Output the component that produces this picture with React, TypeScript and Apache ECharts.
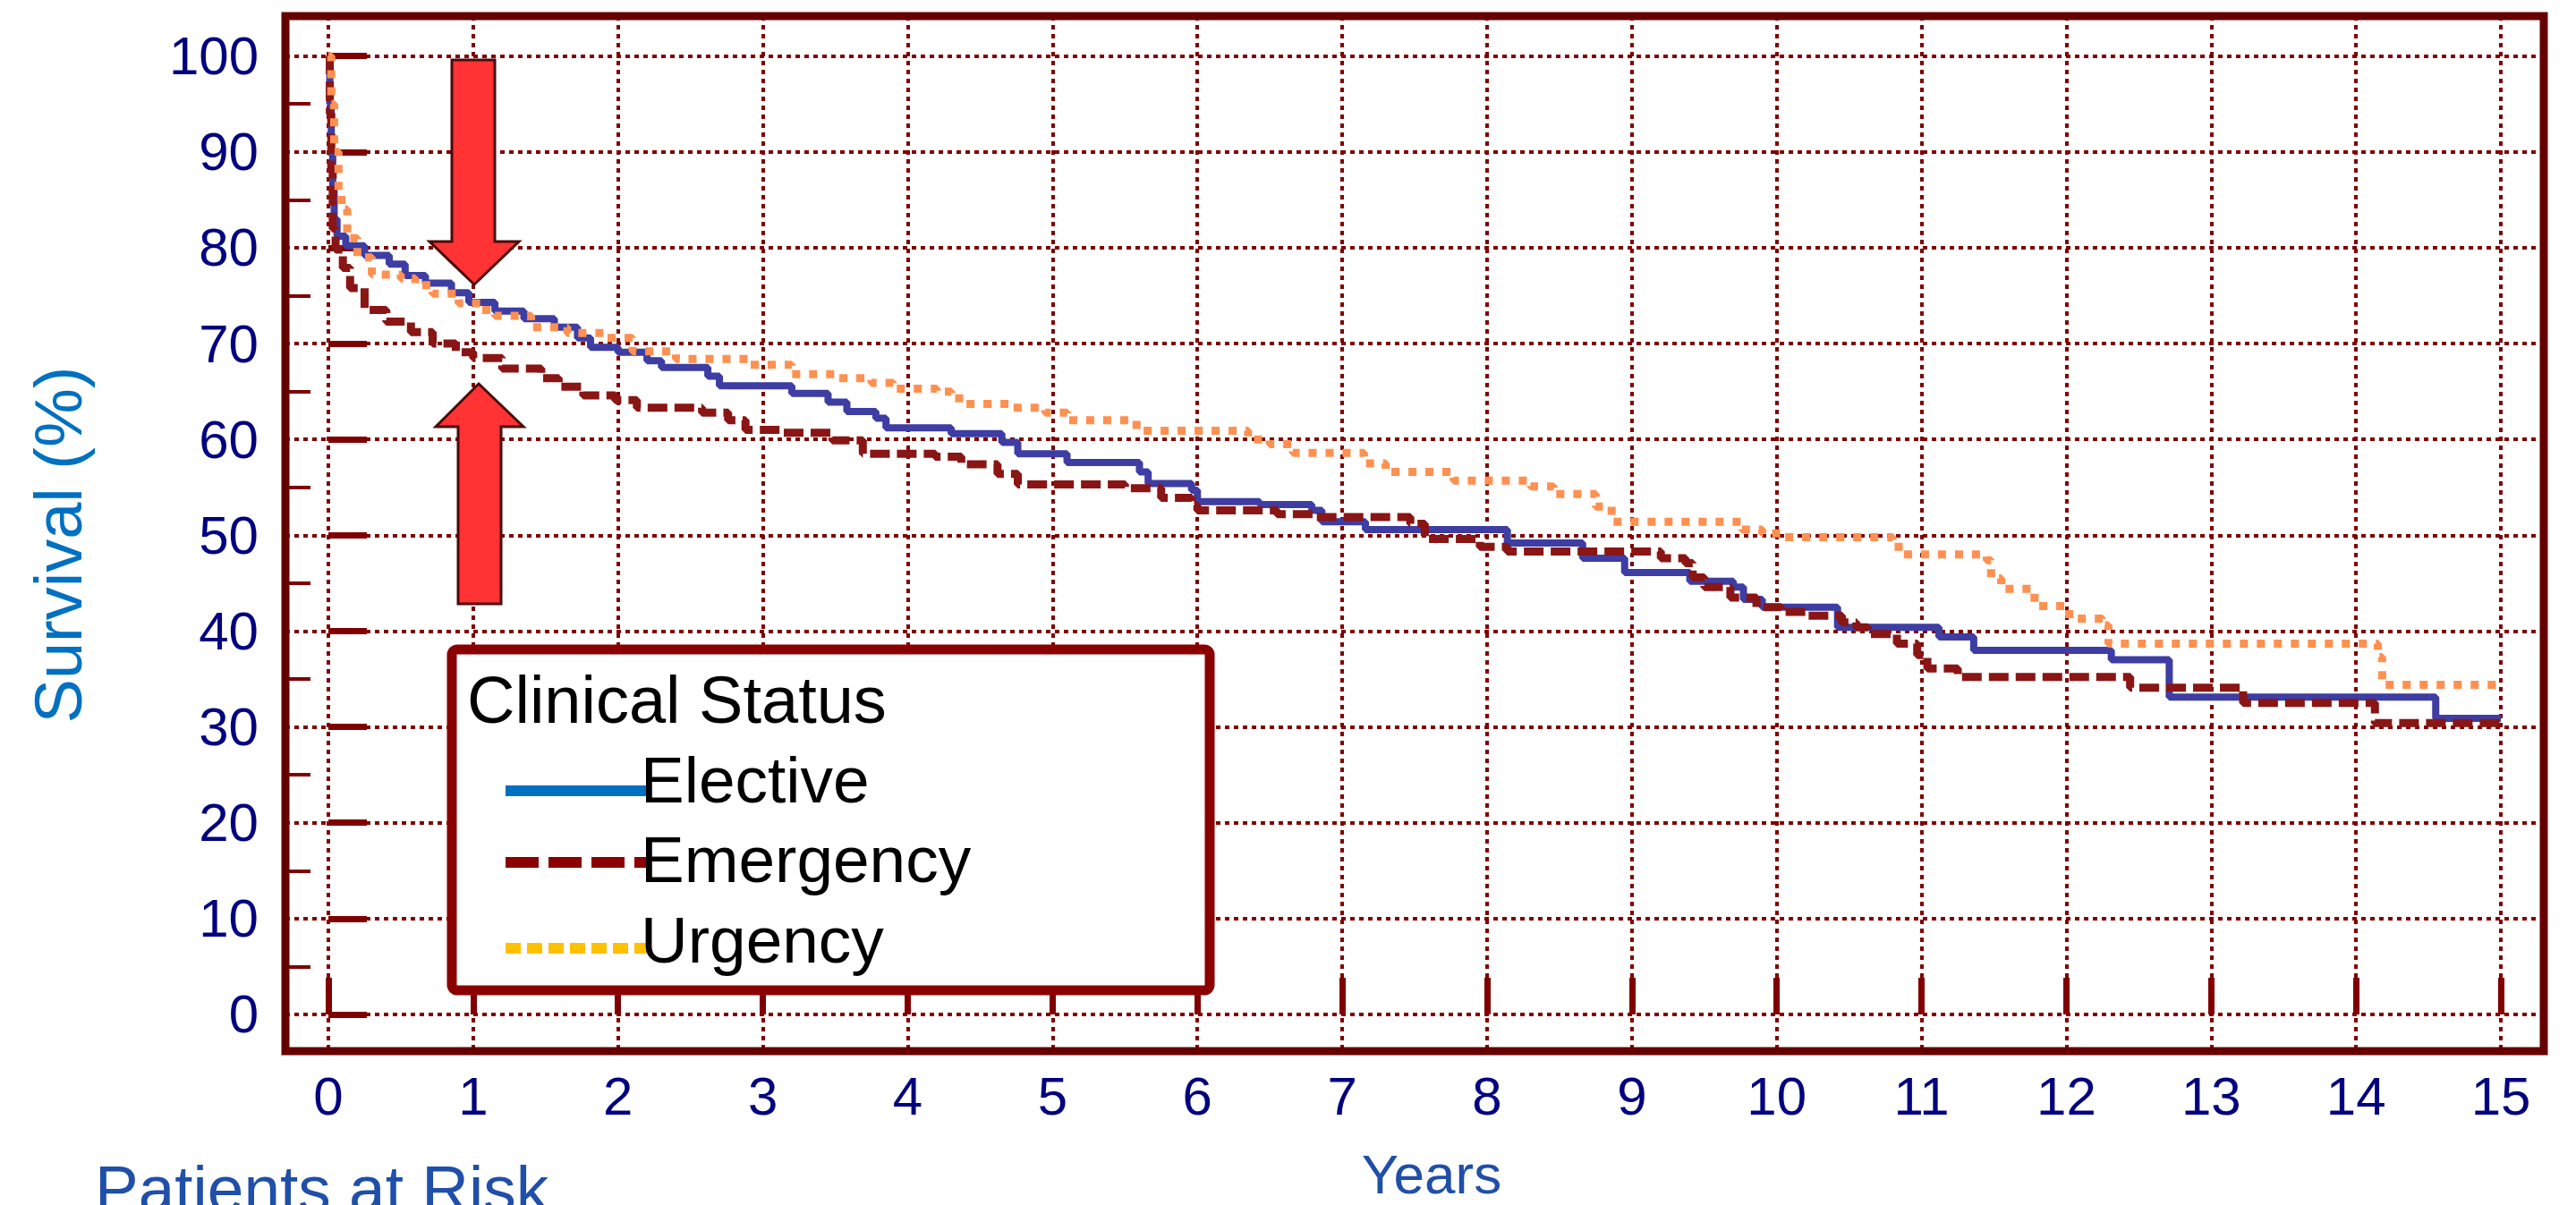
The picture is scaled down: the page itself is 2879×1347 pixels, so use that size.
import React, { useEffect, useRef } from "react";
import * as echarts from "echarts";

// ---------- data ----------
const yearTicks = [0, 1, 2, 3, 4, 5, 6, 7, 8, 9, 10, 11, 12, 13, 14, 15];
const survivalTicks = [0, 10, 20, 30, 40, 50, 60, 70, 80, 90, 100];
const survivalMinorTicks = [5, 15, 25, 35, 45, 55, 65, 75, 85, 95];

const seriesNames = ["Elective", "Emergency", "Urgency"];
const legendTitle = "Clinical Status";

const electiveTimes = [0, 0.01, 0.02, 0.03, 0.04, 0.06, 0.12, 0.25, 0.42, 0.53, 0.67, 0.85, 0.97, 1.15, 1.35, 1.56, 1.72, 1.81, 2.0, 2.2, 2.3, 2.62, 2.7, 3.2, 3.45, 3.58, 3.78, 3.85, 4.3, 4.65, 4.76, 5.1, 5.6, 5.66, 5.96, 6.0, 6.43, 6.79, 6.86, 7.16, 8.14, 8.66, 8.95, 9.4, 9.7, 9.77, 9.9, 10.42, 11.12, 11.36, 12.31, 12.71, 14.55, 15.0];
const electiveSurvival = [100, 95, 90, 86, 83, 81.2, 80.2, 79.2, 78.3, 77.1, 76.3, 75.3, 74.3, 73.4, 72.6, 71.7, 70.6, 69.6, 69.1, 68.2, 67.5, 66.6, 65.6, 64.8, 63.9, 62.9, 62.2, 61.2, 60.6, 59.7, 58.5, 57.6, 56.6, 55.4, 54.7, 53.5, 53.2, 52.6, 51.4, 50.6, 49.2, 47.6, 46.1, 45.2, 44.6, 43.3, 42.5, 40.4, 39.4, 38.0, 37.0, 33.1, 30.9, 30.9];

const emergencyTimes = [0, 0.01, 0.02, 0.03, 0.05, 0.1, 0.15, 0.25, 0.4, 0.57, 0.72, 0.88, 1.0, 1.2, 1.47, 1.59, 1.76, 1.98, 2.13, 2.58, 2.76, 2.88, 3.12, 3.48, 3.69, 4.19, 4.37, 4.62, 4.76, 5.5, 5.75, 5.96, 6.0, 6.55, 6.8, 7.47, 7.57, 7.95, 8.14, 9.2, 9.37, 9.42, 9.5, 9.68, 9.86, 10.03, 10.2, 10.45, 10.55, 10.63, 10.83, 10.97, 11.04, 11.25, 12.44, 13.22, 14.13, 15.0];
const emergencySurvival = [100, 94, 88, 82, 79.8, 77.9, 75.8, 73.5, 72.3, 71.2, 70.0, 69.1, 68.5, 67.4, 66.4, 65.5, 64.6, 64.1, 63.3, 62.8, 62.0, 61.0, 60.7, 59.9, 58.5, 58.2, 57.4, 56.4, 55.3, 54.9, 53.9, 53.1, 52.6, 52.2, 51.9, 51.2, 49.6, 48.8, 48.3, 47.6, 47.1, 45.6, 44.6, 43.5, 42.5, 42.0, 41.6, 40.9, 40.4, 39.7, 38.7, 37.5, 36.1, 35.2, 34.1, 32.5, 30.4, 30.4];

const urgencyTimes = [0, 0.02, 0.04, 0.07, 0.09, 0.13, 0.2, 0.3, 0.5, 0.6, 0.72, 0.9, 1.05, 1.15, 1.4, 1.65, 1.9, 2.1, 2.4, 2.9, 3.2, 3.5, 3.75, 3.9, 4.2, 4.3, 4.4, 4.7, 4.95, 5.1, 5.58, 6.35, 6.5, 6.66, 7.15, 7.3, 7.77, 8.3, 8.46, 8.75, 8.86, 9.76, 9.9, 10.05, 10.8, 10.87, 11.45, 11.48, 11.55, 11.78, 12.02, 12.25, 12.29, 14.15, 14.18, 15.0];
const urgencySurvival = [100, 95, 90, 86, 84, 81.0, 79.0, 77.2, 76.8, 76.1, 75.2, 74.2, 73.5, 72.9, 71.7, 71.1, 70.6, 69.2, 68.4, 67.8, 66.8, 66.4, 65.9, 65.3, 65.0, 64.3, 63.7, 63.3, 62.8, 62.0, 60.9, 60.0, 59.5, 58.6, 57.5, 56.6, 55.7, 55.1, 54.3, 53.0, 51.4, 50.6, 50.2, 49.8, 48.8, 48.0, 47.4, 45.5, 44.4, 42.6, 41.3, 40.6, 38.7, 37.3, 34.4, 34.4];

// ---------- helpers ----------
const zip = (t: number[], s: number[]) => t.map((x, i) => [x, s[i]]);
const FONT = '"Liberation Sans", Arial, Helvetica, sans-serif';
const GRID_RED = "#800000";
const FRAME = "#660000";

function buildOption() {
  const lineColors = ["#3d3da3", "#8a1515", "#ff9050"];
  const lineWidths = [8, 9, 9];
  const lineDash: any[] = ["solid", [22, 8], [9, 10]];
  const legendColors = ["#0070C0", "#8B0000", "#FFC000"];
  const legendDash: any[] = [null, [37, 11], [17, 7]];

  const seriesData = [
    zip(electiveTimes, electiveSurvival),
    zip(emergencyTimes, emergencySurvival),
    zip(urgencyTimes, urgencySurvival),
  ];

  const graphic: any[] = [
    {
      type: "rect",
      z: 50,
      shape: { x: 319, y: 18, width: 2524, height: 1157 },
      style: { fill: "none", stroke: FRAME, lineWidth: 9 },
    },
    {
      type: "polygon",
      z: 70,
      shape: { points: [[505, 67], [553, 67], [553, 270], [580, 270], [530, 318], [480, 270], [505, 270]] },
      style: { fill: "#FF3333", stroke: "#4a0a0a", lineWidth: 3 },
    },
    {
      type: "polygon",
      z: 70,
      shape: { points: [[535, 429], [585, 477], [560, 477], [560, 675], [512, 675], [512, 477], [487, 477]] },
      style: { fill: "#FF3333", stroke: "#4a0a0a", lineWidth: 3 },
    },
    {
      type: "rect",
      z: 60,
      shape: { x: 505, y: 726, width: 847, height: 381, r: 6 },
      style: { fill: "#ffffff", stroke: "#8B0000", lineWidth: 11 },
    },
    {
      type: "text",
      z: 80,
      x: 522,
      y: 782,
      style: { text: legendTitle, fill: "#000", fontSize: 74, fontFamily: FONT, align: "left", verticalAlign: "middle" },
    },
    {
      type: "text",
      z: 80,
      x: 65,
      y: 609,
      rotation: Math.PI / 2,
      style: { text: "Survival (%)", fill: "#0070C0", fontSize: 74, fontFamily: FONT, align: "center", verticalAlign: "middle" },
    },
    {
      type: "text",
      z: 80,
      x: 1600,
      y: 1312,
      style: { text: "Years", fill: "#1F4FA8", fontSize: 62, fontFamily: FONT, align: "center", verticalAlign: "middle" },
    },
    {
      type: "text",
      z: 80,
      x: 106,
      y: 1328,
      style: { text: "Patients at Risk", fill: "#1F4FA8", fontSize: 73, fontFamily: FONT, align: "left", verticalAlign: "middle" },
    },
  ];

  const legendY = [884, 964, 1060];
  const legendTextY = [871, 960, 1050];
  seriesNames.forEach((name, i) => {
    graphic.push({
      type: "line",
      z: 75,
      shape: { x1: 565, y1: legendY[i], x2: 727, y2: legendY[i] },
      style: { stroke: legendColors[i], lineWidth: 12, lineDash: legendDash[i] || undefined },
    });
    graphic.push({
      type: "text",
      z: 80,
      x: 716,
      y: legendTextY[i],
      style: { text: name, fill: "#000", fontSize: 73, fontFamily: FONT, align: "left", verticalAlign: "middle" },
    });
  });

  return {
    animation: false,
    backgroundColor: "#ffffff",
    grid: { left: 319, top: 18, width: 2524, height: 1157, show: false, containLabel: false, outerBoundsMode: "none" },
    xAxis: {
      type: "value",
      min: -0.2965,
      max: 15.296,
      axisLine: { show: false },
      axisTick: { show: true, inside: true, length: 41, customValues: yearTicks, lineStyle: { color: GRID_RED, width: 7 } },
      axisLabel: { show: true, customValues: yearTicks, margin: 20, fontSize: 60, color: "#000080", fontFamily: FONT },
      splitLine: { show: true, lineStyle: { color: GRID_RED, width: 4, type: [5, 5] } },
    },
    yAxis: [
      {
        type: "value",
        min: -3.83,
        max: 104.17,
        axisLine: { show: false },
        axisTick: { show: true, inside: true, length: 43, customValues: survivalTicks, lineStyle: { color: GRID_RED, width: 7 } },
        axisLabel: { show: true, customValues: survivalTicks, margin: 30, fontSize: 60, color: "#000080", fontFamily: FONT },
        splitLine: { show: true, lineStyle: { color: GRID_RED, width: 4, type: [5, 5] } },
      },
      {
        type: "value",
        min: -3.83,
        max: 104.17,
        position: "left",
        axisLine: { show: false },
        axisTick: { show: true, inside: true, length: 28, customValues: survivalMinorTicks, lineStyle: { color: GRID_RED, width: 4 } },
        axisLabel: { show: false },
        splitLine: { show: false },
      },
    ],
    series: seriesNames.map((name, i) => ({
      name,
      type: "line",
      step: "end",
      showSymbol: false,
      symbol: "none",
      yAxisIndex: 0,
      data: seriesData[i],
      lineStyle: { color: lineColors[i], width: lineWidths[i], type: lineDash[i] },
      z: 3 + i,
    })),
    graphic,
  };
}

export default function App() {
  const ref = useRef<HTMLDivElement>(null);
  useEffect(() => {
    if (!ref.current) return;
    const chart = echarts.init(ref.current, null, { renderer: "svg" });
    chart.setOption(buildOption() as any);
    return () => chart.dispose();
  }, []);
  return (
    <div
      ref={ref}
      style={{ position: "absolute", left: 0, top: 0, width: 2879, height: 1347, background: "#fff" }}
    />
  );
}
